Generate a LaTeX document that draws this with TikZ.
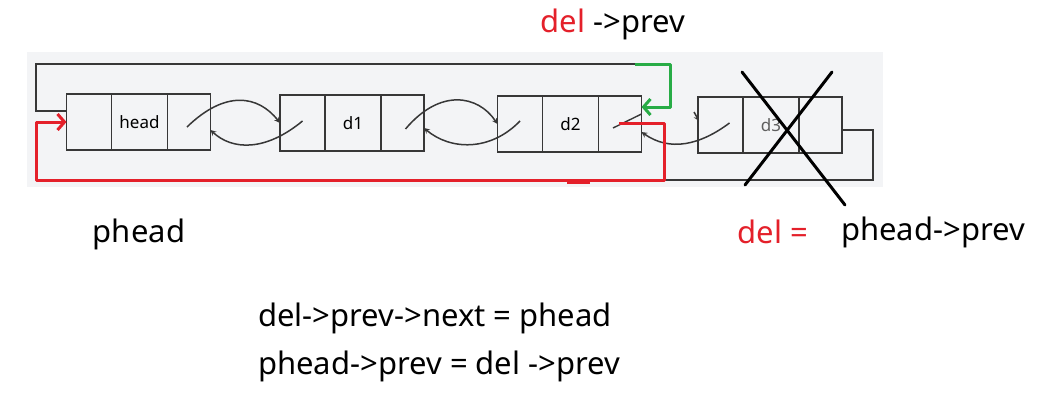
\documentclass[tikz,border=0pt]{standalone}
\usepackage{fontspec}
\setmainfont{Noto Sans}
\usepackage{xcolor}
\usetikzlibrary{positioning,arrows,arrows.meta,calc}
\definecolor{panel}{RGB}{243,244,246}
\definecolor{boxline}{RGB}{55,55,55}
\definecolor{delred}{RGB}{228,32,42}
\definecolor{fixgreen}{RGB}{40,172,70}

\begin{document}
\begin{tikzpicture}[x=1pt,y=-1pt,
    cell/.style={draw=boxline,line width=1.3pt,minimum height=56pt,inner sep=0pt,outer sep=0pt,
      font=\fontsize{17}{19}\selectfont},
    ptrcell/.style={cell,minimum width=45pt},
    valcell/.style={cell,minimum width=56pt},
    endcell/.style={cell,minimum width=43pt},
    link/.style={draw=boxline,line width=1.5pt,-stealth},
    wire/.style={draw=boxline,line width=1.4pt},
    redo/.style={line width=3pt,line join=round,-{Straight Barb[length=7pt,width=16pt]}},
    big/.style={font=\fontsize{31}{34}\selectfont,inner sep=0pt}]
    \useasboundingbox (0,0) rectangle (1049,410);
    \fill[white] (0,0) rectangle (1049,410);
    \fill[panel] (27,52) rectangle (883,187);
    % the four list nodes
    \node[ptrcell] (hprev) at (89,122) {};
    \node[valcell,right=0pt of hprev] (hval) {head};
    \node[endcell,right=0pt of hval] (hnext) {};
    \node[ptrcell] (aprev) at (302.5,123) {};
    \node[valcell,right=0pt of aprev] (aval) {d1};
    \node[endcell,right=0pt of aval] (anext) {};
    \node[ptrcell] (bprev) at (520,124) {};
    \node[valcell,right=0pt of bprev] (bval) {d2};
    \node[endcell,right=0pt of bval] (bnext) {};
    \node[ptrcell] (cprev) at (720.5,125) {};
    \node[valcell,right=0pt of cprev,text=boxline!80] (cval) {d3};
    \node[endcell,right=0pt of cval] (cnext) {};
    % next / prev links
    \draw[link] ([shift={(-2,5)}]hnext.center) .. controls (225,90) and (258,95) .. (aprev.west);
    \draw[link] ([shift={(0,-2)}]aprev.center) .. controls (265,152) and (232,150) .. ([shift={(0,8)}]hnext.east);
    \draw[link] ([shift={(3,6)}]anext.center) .. controls (440,88) and (478,95) .. (bprev.west);
    \draw[link] ([shift={(0,-3)}]bprev.center) .. controls (490,152) and (450,150) .. ([shift={(0,5)}]anext.east);
    \draw[wire] ([shift={(-7,4)}]bnext.center) -- ([shift={(0,-10)}]bnext.east);
    \draw[link] ([shift={(-4,-13)}]cprev.west) -- ([shift={(1,-4)}]cprev.west);
    \draw[link] ([shift={(9,-2)}]cprev.center) .. controls (700,145) and (670,152) .. ([shift={(0,8)}]bnext.east);
    % circular links
    \draw[wire] ([shift={(0,-11)}]hprev.west) -| (36,64) -- (635,64) coordinate (turn);
    \draw[wire] ([shift={(0,5)}]cnext.east) -| (873,180) -- (664,180);
    \draw[fixgreen,redo] (turn) -| (670,107) -- ([shift={(0,-17)}]bnext.east);
    \draw[delred,redo] ([shift={(-1,-1)}]bnext.center) -- (664,123) |- (36,180) |- (hprev.west);
    \fill[delred] (567,179) rectangle (590,183.5);
    % d3 crossed out
    \draw[line width=3pt,line cap=round] (742,72) -- (845,205);
    \draw[line width=3pt,line cap=round] (832,72) -- (745,185);
    % labels
    \node[big] (top) at (613,24) {\textcolor{delred}{del} ->prev};
    \node[big] (phead) at (139,234) {phead};
    \node[big,text=delred] (delis) at (773,232) {del =};
    \node[big] (prevof) at (933,232) {phead->prev};
    \node[big,anchor=west] (eqa) at (258,318) {del->prev->next = phead};
    \node[big,anchor=west] (eqb) at (258,366) {phead->prev = del ->prev};
\end{tikzpicture}
\end{document}
